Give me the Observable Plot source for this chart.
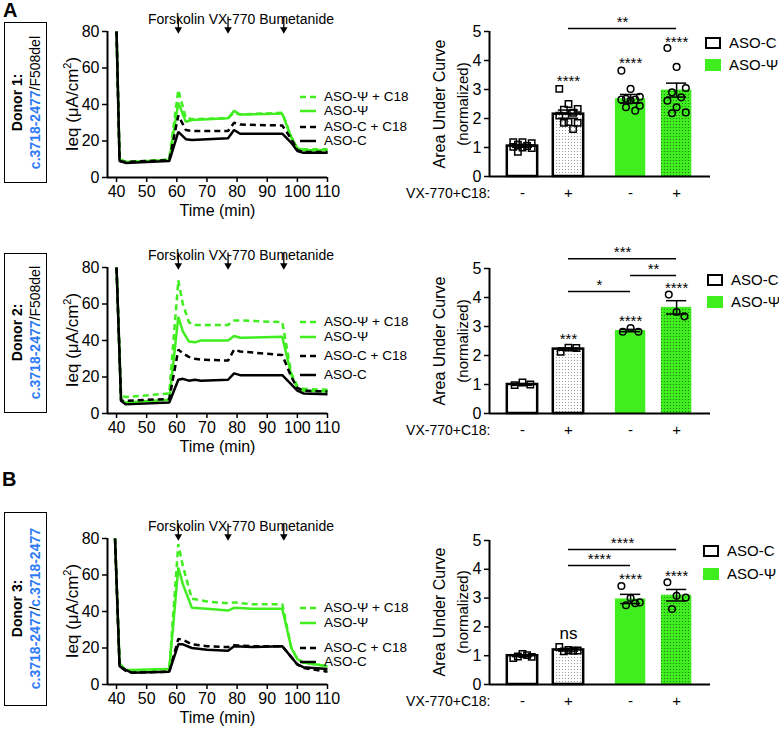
<!DOCTYPE html>
<html><head><meta charset="utf-8">
<script src="https://cdn.jsdelivr.net/npm/d3@7"></script>
<script src="https://cdn.jsdelivr.net/npm/@observablehq/plot@0.6"></script>
<style>
body{margin:0;background:#fff;font-family:"Liberation Sans",Arial,Helvetica,sans-serif;color:#000;}
#root{position:relative;width:779px;height:734px;overflow:hidden;background:#fff;}
.letter{position:absolute;font-weight:bold;font-size:20px;line-height:20px;}
.donor{position:absolute;border:1.5px solid #000;box-sizing:border-box;display:flex;align-items:center;justify-content:center;background:#fff;}
.donor .t{writing-mode:vertical-rl;transform:rotate(180deg);font-size:14px;text-align:center;line-height:18px;white-space:nowrap;}
.blue{color:#2f7bf5;font-weight:bold;}
.leg{position:absolute;font-size:13.5px;white-space:nowrap;display:flex;align-items:center;height:14px;line-height:14px;}
.vlab{position:absolute;white-space:nowrap;transform:translate(-50%,-50%) rotate(-90deg);line-height:1;}
.vlab sup{font-size:0.65em;vertical-align:0.55em;line-height:0;}
</style></head><body>
<svg width="0" height="0" style="position:absolute">
<defs>
<pattern id="dotsW" width="3" height="3" patternUnits="userSpaceOnUse"><rect width="3" height="3" fill="#fff"/><circle cx="1.5" cy="1.5" r="0.55" fill="#8a8a8a"/></pattern>
<pattern id="dotsG" width="3" height="3" patternUnits="userSpaceOnUse"><rect width="3" height="3" fill="#40ee20"/><circle cx="1.5" cy="1.5" r="0.6" fill="#1c6e08"/></pattern>
</defs></svg>
<div id="root"></div>
<script>
// ---------------- DATA ----------------
const seriesNames = ["ASO-Ψ + C18", "ASO-Ψ", "ASO-C + C18", "ASO-C"];
const timeTicks = [40, 50, 60, 70, 80, 90, 100, 110];
const ieqTicks = [0, 20, 40, 60, 80];
const drugTimes = [60.5, 77, 95.5];
const drugLabel = "Forskolin VX-770 Bumetanide";

// Donor 1 traces
const d1Time   = [40, 41, 43, 50, 57.5, 60.5, 63, 65, 77, 79, 81, 95, 98, 100, 102, 110];
const d1PsiC18 = [80, 10, 8.5, 9, 10, 48, 32.5, 32, 32.5, 35.5, 34.5, 35.5, 22, 16, 15.5, 15.5];
const d1Psi    = [80, 10, 8.5, 9, 9.5, 41, 30.5, 31.5, 32.5, 36.5, 34.5, 35, 22, 16, 15, 15];
const d1CC18   = [80, 9, 8.5, 9, 9.5, 34, 26, 25.5, 25.5, 30, 29, 28.5, 21, 15, 14, 14];
const d1C      = [80, 9, 8, 8.5, 9, 25, 21, 20.5, 21.5, 26, 24, 24, 19, 14.5, 13.5, 13.5];

// Donor 2 traces
const d2Time   = [40, 41.5, 43, 57.5, 60.5, 62, 64, 66, 68, 77, 79, 81, 95, 98, 100, 102, 110];
const d2PsiC18 = [80, 10, 9, 11, 73, 60, 50, 48.5, 48.5, 48.5, 51, 51, 50, 22, 15, 13.5, 13];
const d2Psi    = [80, 7.5, 6, 7.5, 53, 45, 39.5, 39, 40, 40, 42.5, 41.5, 42, 21, 14, 12.5, 12];
const d2CC18   = [80, 7, 7, 8, 35, 33, 31, 30, 29.5, 29, 35, 34, 32, 20, 14, 12.5, 12];
const d2C      = [80, 7, 5, 6, 18.5, 19, 18, 18.5, 18, 18.5, 22, 21, 21, 16, 12.5, 11, 10.5];

// Donor 3 traces
const d3Time   = [39.5, 41, 43, 45, 57.5, 60.5, 62, 65, 70, 77, 79, 85, 95, 98, 100, 102, 110];
const d3PsiC18 = [80, 11, 8, 7.5, 8.5, 77, 65, 47, 45.5, 44.5, 45, 44, 44, 20, 14, 12, 10];
const d3Psi    = [80, 11.5, 8, 8, 8.5, 64, 55, 42, 41.5, 40.5, 42, 41.5, 41.5, 20, 14, 12, 10];
const d3CC18   = [80, 10, 7.5, 6.5, 7, 25, 24.5, 22, 21, 20.5, 21.5, 21, 21, 15, 11, 9, 7];
const d3C      = [80, 10, 8, 6.5, 7, 22, 22, 20, 19, 18.5, 21, 20.5, 21, 15, 11, 9.5, 8.5];

// Bar charts (AUC normalized)
const barGroups = ["ASO-C", "ASO-C", "ASO-Ψ", "ASO-Ψ"];
const condLabels = ["-", "+", "-", "+"];
const xLabel = "VX-770+C18:";
const aucTicks = [0, 1, 2, 3, 4, 5];

const b1Mean = [1.05, 2.15, 2.68, 2.98];
const b1Sem  = [0.04, 0.14, 0.15, 0.24];
const b1Pts  = [
  [1.18, 1.18, 1.15, 1.1, 1.05, 1.02, 1.0, 0.98, 0.85],
  [3.02, 2.5, 2.33, 2.3, 2.2, 2.1, 1.88, 1.85, 1.85, 1.64],
  [3.65, 3.02, 2.75, 2.68, 2.65, 2.65, 2.62, 2.44, 2.39, 2.27],
  [4.43, 3.78, 3.05, 2.9, 2.73, 2.61, 2.39, 2.21, 2.18]
];
const b1Stars  = ["", "****", "****", "****"];
const b1StarY  = [0, 3.3, 3.92, 4.62];
const b1SigFrom = [1], b1SigTo = [3], b1SigY = [5.1], b1SigLabel = ["**"];

const b2Mean = [1.0, 2.22, 2.86, 3.66];
const b2Sem  = [0.03, 0.04, 0.04, 0.23];
const b2Pts  = [
  [0.98, 1.07, 1.0],
  [2.13, 2.27, 2.26],
  [2.82, 2.95, 2.82],
  [4.1, 3.5, 3.35]
];
const b2Stars  = ["", "***", "****", "****"];
const b2StarY  = [0, 2.55, 3.2, 4.33];
const b2SigFrom = [1, 2, 1], b2SigTo = [3, 3, 2], b2SigY = [5.34, 4.76, 4.21], b2SigLabel = ["***", "**", "*"];

const b3Mean = [1.0, 1.2, 2.97, 3.1];
const b3Sem  = [0.03, 0.04, 0.16, 0.2];
const b3Pts  = [
  [0.92, 1.06, 0.96, 0.97, 1.02],
  [1.3, 1.2, 1.18, 1.15, 1.17],
  [3.42, 3.0, 2.85, 2.75, 2.82],
  [3.55, 3.08, 3.02, 2.62]
];
const b3Stars  = ["", "ns", "****", "****"];
const b3StarY  = [0, 1.78, 3.64, 3.77];
const b3SigFrom = [1, 1], b3SigTo = [3, 2], b3SigY = [4.69, 4.13], b3SigLabel = ["****", "****"];

// ---------------- STYLE / LAYOUT ----------------
const GREEN = "#40ee20";
const FONT = '"Liberation Sans", Arial, Helvetica, sans-serif';
const lineStyle = [
  {color: GREEN, dash: "6,4"},
  {color: GREEN, dash: null},
  {color: "#000", dash: "6,4"},
  {color: "#000", dash: null}
];
const root = document.getElementById("root");
function place(el, left, top) {
  el.style.position = "absolute"; el.style.left = left + "px"; el.style.top = top + "px";
  root.appendChild(el);
}
function vlabel(html, cx, cy, size) {
  const d = document.createElement("div");
  d.className = "vlab"; d.innerHTML = html; d.style.fontSize = size + "px";
  place(d, cx, cy);
}
const plotStyle = {fontFamily: FONT, fontSize: "16px", color: "#000", background: "transparent", overflow: "visible"};

function lineChart({time, series, top, height, mt, mb, legendY}) {
  const XMIN = 37, XMAX = 110;
  const marks = [
    Plot.axisX({ticks: timeTicks, tickFormat: d => d, tickSize: 5, tickPadding: 3, label: null, strokeWidth: 1.5, fontSize: 16}),
    Plot.axisY({ticks: ieqTicks, tickFormat: d => d, tickSize: 5, tickPadding: 3, label: null, strokeWidth: 1.5, fontSize: 16})
  ];
  [0, 1, 2, 3].forEach(k => {
    const st = lineStyle[k];
    const rows = time.map((t, i) => ({t, v: series[k][i]}));
    const opts = {x: "t", y: "v", stroke: st.color, strokeWidth: 2.5, strokeLinejoin: "miter", strokeLinecap: "butt"};
    if (st.dash) opts.strokeDasharray = st.dash;
    marks.push(Plot.line(rows, opts));
  });
  marks.push(
    Plot.ruleX([XMIN], {y1: 0, y2: 80, strokeWidth: 2}),
    Plot.ruleY([0], {x1: XMIN, x2: XMAX, strokeWidth: 2}),
    Plot.ruleX(drugTimes, {x: d => d, y1: 88, y2: 81, strokeWidth: 1.3}),
    Plot.dot(drugTimes, {x: d => d, y: 81.2, symbol: "triangle", rotate: 180, r: 2.8, fill: "#000", stroke: "none"}),
    Plot.text([drugLabel], {x: 81.3, frameAnchor: "top", dy: -17, fontSize: 14}),
    Plot.text(["Time (min)"], {frameAnchor: "bottom", dy: 38, fontSize: 16})
  );
  const p = Plot.plot({
    width: 390, height, marginTop: mt, marginBottom: mb, marginLeft: 107, marginRight: 63,
    x: {domain: [XMIN, XMAX]}, y: {domain: [0, 80]},
    style: plotStyle, marks
  });
  place(p, 0, top);
  vlabel("Ieq (μA/cm<sup>2</sup>)", 72, top + mt + (height - mt - mb) / 2, 17);
  seriesNames.forEach((name, k) => {
    const st = lineStyle[k];
    const d = document.createElement("div");
    d.className = "leg";
    d.innerHTML = `<svg width="16" height="6" style="margin-right:8px"><line x1="0" x2="16" y1="3" y2="3" stroke="${st.color}" stroke-width="2.5" ${st.dash ? `stroke-dasharray="6,4"` : ""}/></svg><span>${name}</span>`;
    place(d, 300, legendY[k] - 7);
  });
}

function jitter(j, n) {
  const cols = n <= 3 ? [-0.17, 0, 0.17] : [-0.2, 0, 0.2, -0.1, 0.1];
  return cols[j % cols.length];
}

function barChart({means, sems, pts, stars, starY, sigFrom, sigTo, sigY, sigLabel, top, height, mt, mb, legendX, legendY}) {
  const XMIN = -0.717, XMAX = 4.087;
  const pos = barGroups.map((g, i) => (g === "ASO-C" ? 0 : 2.35) + (i % 2));
  const fills = ["#fff", "url(#dotsW)", GREEN, "url(#dotsG)"];
  const strokes = ["#000", "#000", "none", "none"];
  const marks = [];
  means.forEach((m, i) => {
    marks.push(Plot.rect([m], {x1: pos[i] - 0.33, x2: pos[i] + 0.33, y1: 0, y2: d => d, fill: fills[i], stroke: strokes[i], strokeWidth: 2.5}));
  });
  const eb = means.map((m, i) => ({x: pos[i], lo: m - sems[i], hi: m + sems[i]}));
  const ptsC = [], ptsP = [];
  pts.forEach((arr, i) => arr.forEach((v, j) => (barGroups[i] === "ASO-C" ? ptsC : ptsP).push({x: pos[i] + jitter(j, arr.length), v})));
  const starRows = stars.map((s, i) => ({x: pos[i], y: starY[i], s})).filter(d => d.s);
  const sigRows = sigFrom.map((f, i) => ({x1: pos[f], x2: pos[sigTo[i]], y: sigY[i], label: sigLabel[i]}));
  marks.push(
    Plot.dot(ptsC, {x: "x", y: "v", symbol: "square", r: 3.6, stroke: "#000", fill: "none", strokeWidth: 1.5}),
    Plot.dot(ptsP, {x: "x", y: "v", symbol: "circle", r: 3.3, stroke: "#000", fill: "none", strokeWidth: 1.5}),
    Plot.ruleX(eb, {x: "x", y1: "lo", y2: "hi", strokeWidth: 1.5}),
    Plot.ruleY(eb, {y: "hi", x1: d => d.x - 0.22, x2: d => d.x + 0.22, strokeWidth: 1.5}),
    Plot.ruleY(eb, {y: "lo", x1: d => d.x - 0.22, x2: d => d.x + 0.22, strokeWidth: 1.5}),
    Plot.ruleX([XMIN], {y1: 0, y2: 5, strokeWidth: 2}),
    Plot.ruleY([0], {x1: XMIN, x2: XMAX, strokeWidth: 2}),
    Plot.axisY({ticks: aucTicks, tickFormat: d => d, tickSize: 5, tickPadding: 3, label: null, strokeWidth: 1.5, fontSize: 16}),
    Plot.text(pos, {x: d => d, y: 0, dy: 17, text: (d, i) => condLabels[i], fontSize: 15}),
    Plot.text([xLabel], {x: XMIN, y: 0, dy: 17, dx: 1, textAnchor: "end", fontSize: 14}),
    Plot.text(starRows, {x: "x", y: "y", text: "s", fontSize: d => d.s === "ns" ? 17 : 15}),
    Plot.ruleY(sigRows, {y: "y", x1: "x1", x2: "x2", strokeWidth: 1.5}),
    Plot.text(sigRows, {x: d => (d.x1 + d.x2) / 2, y: "y", dy: -6, text: "label", fontSize: 15})
  );
  const p = Plot.plot({
    width: 389, height, marginTop: mt, marginBottom: mb, marginLeft: 99, marginRight: 69,
    x: {domain: [XMIN, XMAX], axis: null}, y: {domain: [0, 5], axis: null},
    style: plotStyle, marks
  });
  place(p, 390, top);
  const cy = top + mt + (height - mt - mb) / 2;
  vlabel("Area Under Curve", 440, cy, 16);
  vlabel("(normalized)", 462, cy, 15);
  ["ASO-C", "ASO-Ψ"].forEach((name, k) => {
    const d = document.createElement("div");
    d.className = "leg";
    d.innerHTML = k === 0
      ? `<svg width="16" height="12" style="margin-right:8px"><rect x="1" y="1" width="14" height="10" fill="#fff" stroke="#000" stroke-width="2"/></svg><span>${name}</span>`
      : `<svg width="16" height="12" style="margin-right:8px"><rect x="0" y="0" width="16" height="12" fill="${GREEN}"/></svg><span>${name}</span>`;
    d.style.fontSize = "15px";
    place(d, legendX, legendY[k] - 7);
  });
}

function donor(top, height, html) {
  const d = document.createElement("div");
  d.className = "donor";
  d.style.width = "43px"; d.style.height = height + "px";
  d.innerHTML = `<div class="t">${html}</div>`;
  place(d, 4, top);
}
function letter(t, left, top) {
  const d = document.createElement("div");
  d.className = "letter"; d.textContent = t;
  place(d, left, top);
}

// ---------------- RENDER ----------------
letter("A", 3, 0);
letter("B", 2, 469);
donor(22, 161, `<b>Donor 1:</b><br><span class="blue">c.3718-2477</span>/F508del`);
donor(253, 160, `<b>Donor 2:</b><br><span class="blue">c.3718-2477</span>/F508del`);
donor(512, 194, `<b>Donor 3:</b><br><span class="blue">c.3718-2477</span>/<span class="blue">c.3718-2477</span>`);

lineChart({time: d1Time, series: [d1PsiC18, d1Psi, d1CC18, d1C], top: 0, height: 225, mt: 31, mb: 48, legendY: [97, 111, 127, 141]});
lineChart({time: d2Time, series: [d2PsiC18, d2Psi, d2CC18, d2C], top: 230, height: 230, mt: 37, mb: 47, legendY: [322, 337, 356, 375]});
lineChart({time: d3Time, series: [d3PsiC18, d3Psi, d3CC18, d3C], top: 500, height: 234, mt: 38, mb: 50, legendY: [608, 623, 648, 662]});

barChart({means: b1Mean, sems: b1Sem, pts: b1Pts, stars: b1Stars, starY: b1StarY, sigFrom: b1SigFrom, sigTo: b1SigTo, sigY: b1SigY, sigLabel: b1SigLabel, top: 0, height: 215, mt: 31, mb: 39, legendX: 705, legendY: [43, 65]});
barChart({means: b2Mean, sems: b2Sem, pts: b2Pts, stars: b2Stars, starY: b2StarY, sigFrom: b2SigFrom, sigTo: b2SigTo, sigY: b2SigY, sigLabel: b2SigLabel, top: 230, height: 220, mt: 38, mb: 37, legendX: 707, legendY: [280, 302]});
barChart({means: b3Mean, sems: b3Sem, pts: b3Pts, stars: b3Stars, starY: b3StarY, sigFrom: b3SigFrom, sigTo: b3SigTo, sigY: b3SigY, sigLabel: b3SigLabel, top: 500, height: 234, mt: 40, mb: 50, legendX: 703, legendY: [551, 574]});
</script>
</body></html>
